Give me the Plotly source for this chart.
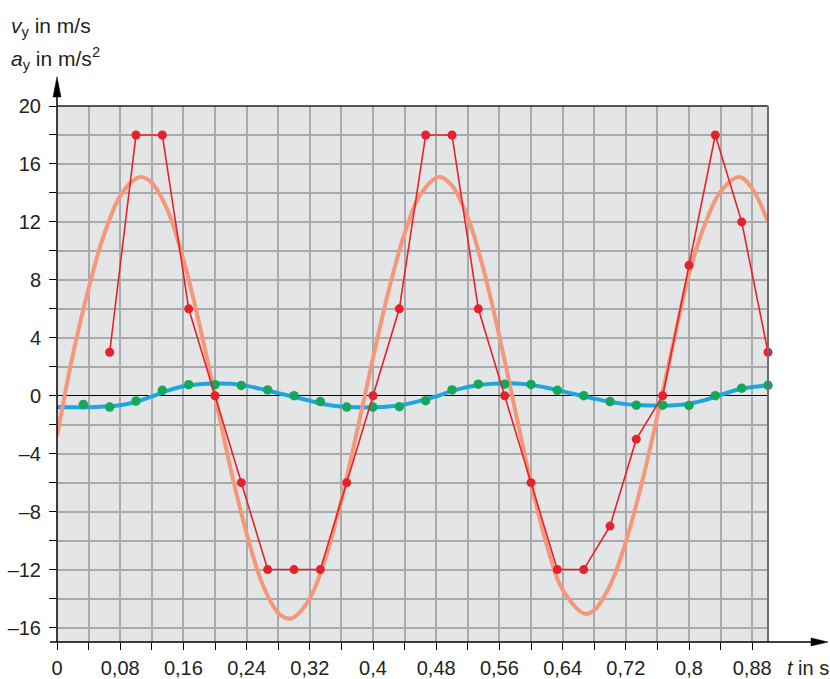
import plotly.graph_objects as go

# Measured samples, one every 1/30 s
t_v = [0.0333, 0.0667, 0.1, 0.1333, 0.1667, 0.2, 0.2333, 0.2667, 0.3, 0.3333,
       0.3667, 0.4, 0.4333, 0.4667, 0.5, 0.5333, 0.5667, 0.6, 0.6333, 0.6667,
       0.7, 0.7333, 0.7667, 0.8, 0.8333, 0.8667, 0.9]
v_meas = [-0.6, -0.78, -0.37, 0.37, 0.76, 0.76, 0.71, 0.4, 0.0, -0.4,
          -0.78, -0.78, -0.76, -0.34, 0.4, 0.8, 0.8, 0.78, 0.37, 0.0,
          -0.4, -0.65, -0.65, -0.67, 0.0, 0.52, 0.72]

t_a = [0.0667, 0.1, 0.1333, 0.1667, 0.2, 0.2333, 0.2667, 0.3, 0.3333, 0.3667,
       0.4, 0.4333, 0.4667, 0.5, 0.5333, 0.5667, 0.6, 0.6333, 0.6667, 0.7,
       0.7333, 0.7667, 0.8, 0.8333, 0.8667, 0.9]
a_meas = [3, 18, 18, 6, 0, -6, -12, -12, -12, -6,
          0, 6, 18, 18, 6, 0, -6, -12, -12, -9,
          -3, 0, 9, 18, 12, 3]

# Smooth model curves
t_vc = [0.0, 0.02, 0.04, 0.06, 0.08, 0.10, 0.12, 0.14, 0.16, 0.18, 0.20, 0.22,
        0.24, 0.26, 0.28, 0.30, 0.32, 0.34, 0.36, 0.38, 0.40, 0.42, 0.44, 0.46,
        0.48, 0.50, 0.52, 0.54, 0.56, 0.58, 0.60, 0.62, 0.64, 0.66, 0.68, 0.70,
        0.72, 0.74, 0.76, 0.78, 0.80, 0.82, 0.84, 0.86, 0.88, 0.90]
v_curve = [-0.78, -0.8, -0.8, -0.75, -0.65, -0.42, -0.05, 0.35, 0.65, 0.8, 0.85, 0.82,
           0.68, 0.45, 0.18, -0.08, -0.35, -0.6, -0.75, -0.8, -0.8, -0.75, -0.6, -0.35,
           -0.05, 0.33, 0.6, 0.78, 0.85, 0.84, 0.75, 0.55, 0.3, 0.05, -0.2, -0.42,
           -0.58, -0.65, -0.68, -0.66, -0.55, -0.3, 0.05, 0.4, 0.6, 0.72]

t_ac = [0.0, 0.02, 0.04, 0.06, 0.08, 0.10, 0.107, 0.12, 0.14, 0.16, 0.18, 0.20,
        0.22, 0.24, 0.26, 0.28, 0.294, 0.30, 0.32, 0.34, 0.36, 0.38, 0.40, 0.42,
        0.44, 0.46, 0.484, 0.50, 0.52, 0.54, 0.56, 0.58, 0.60, 0.62, 0.64, 0.668,
        0.68, 0.70, 0.72, 0.74, 0.76, 0.78, 0.80, 0.82, 0.84, 0.864, 0.88, 0.90]
a_curve = [-2.8, 2.8, 7.4, 11.2, 13.8, 15.0, 15.1, 14.7, 12.8, 9.4, 5.0, 0.0,
           -5.1, -9.5, -13.0, -15.0, -15.4, -15.3, -14.0, -11.2, -7.2, -2.4, 2.6, 7.3,
           11.2, 13.9, 15.1, 14.5, 12.3, 8.7, 4.1, -1.0, -6.0, -10.3, -13.4, -15.05,
           -14.8, -13.1, -10.1, -6.1, -1.4, 3.6, 8.4, 11.8, 14.1, 15.1, 14.3, 12.0]

# Axis ticks
x_major = [0, 0.08, 0.16, 0.24, 0.32, 0.4, 0.48, 0.56, 0.64, 0.72, 0.8, 0.88]
x_labels = ["0", "0,08", "0,16", "0,24", "0,32", "0,4", "0,48", "0,56", "0,64",
            "0,72", "0,8", "0,88"]
x_minor = [0.04, 0.12, 0.2, 0.28, 0.36, 0.44, 0.52, 0.6, 0.68, 0.76, 0.84]
y_major = [-16, -12, -8, -4, 0, 4, 8, 12, 16, 20]
y_labels = ["\u201316", "\u201312", "\u20138", "\u20134", "0", "4", "8", "12", "16", "20"]
y_minor = [-14, -10, -6, -2, 2, 6, 10, 14, 18]

FONT = "Liberation Sans, Arial, Helvetica, sans-serif"
GRID = "#a9aaac"

fig = go.Figure()
fig.add_trace(go.Scatter(x=t_vc, y=v_curve, mode="lines", line=dict(color="#1ea6e0", width=4, shape="spline"),
                         hoverinfo="skip"))
fig.add_trace(go.Scatter(x=t_ac, y=a_curve, mode="lines", line=dict(color="#f4977b", width=4, shape="spline"),
                         hoverinfo="skip"))
fig.add_trace(go.Scatter(x=t_v, y=v_meas, mode="markers", marker=dict(color="#16a85a", size=9.5),
                         cliponaxis=False))
fig.add_trace(go.Scatter(x=t_a, y=a_meas, mode="lines+markers", line=dict(color="#e5222b", width=1.6),
                         marker=dict(color="#e5222b", size=9), cliponaxis=False))

fig.update_layout(
    width=830, height=679,
    margin=dict(l=57, r=62, t=106, b=37),
    paper_bgcolor="white", plot_bgcolor="#e4e5e7",
    showlegend=False,
    font=dict(family=FONT, size=20, color="#231f20"),
    xaxis=dict(range=[0, 0.9], tickmode="array", tickvals=x_major, ticktext=x_labels,
               ticks="outside", ticklen=7, tickwidth=1.3, tickcolor="black",
               showgrid=True, gridcolor=GRID, gridwidth=1.6, zeroline=False, showline=False,
               ticklabelstandoff=1, automargin=False,
               minor=dict(tickmode="array", tickvals=x_minor, ticks="outside", ticklen=7,
                          tickwidth=1.3, tickcolor="black", showgrid=True, gridcolor=GRID,
                          gridwidth=1.6)),
    yaxis=dict(range=[-17, 20], tickmode="array", tickvals=y_major, ticktext=y_labels,
               ticks="outside", ticklen=7, tickwidth=1.3, tickcolor="black",
               showgrid=True, gridcolor=GRID, gridwidth=1.6,
               zeroline=True, zerolinecolor="black", zerolinewidth=1.3, showline=False,
               ticklabelstandoff=4, automargin=False,
               minor=dict(tickmode="array", tickvals=y_minor, ticks="outside", ticklen=7,
                          tickwidth=1.3, tickcolor="black", showgrid=True, gridcolor=GRID,
                          gridwidth=1.6)),
)

# Frame, axes and arrow heads
shapes = [
    dict(type="line", xref="paper", yref="paper", x0=0, x1=1, y0=1, y1=1,
         line=dict(color="#231f20", width=1.6)),
    dict(type="line", xref="paper", yref="paper", x0=1, x1=1, y0=0, y1=1,
         line=dict(color="#6d6e70", width=2)),
    dict(type="line", xref="paper", yref="paper", x0=0, x1=0, y0=0, y1=1.02,
         line=dict(color="black", width=1.5)),
    dict(type="line", xref="paper", yref="paper", x0=-0.0098, x1=1.062, y0=0, y1=0,
         line=dict(color="black", width=1.5)),
    dict(type="path", xref="paper", yref="paper",
         path="M 1.0844,0 L 1.0605,0.0075 L 1.0605,-0.0075 Z",
         fillcolor="black", line=dict(color="black", width=0.5)),
    dict(type="path", xref="paper", yref="paper",
         path="M 0,1.0547 L 0.0056,1.0168 L -0.0056,1.0168 Z",
         fillcolor="black", line=dict(color="black", width=0.5)),
]
fig.update_layout(shapes=shapes)

fig.add_annotation(text="<i>v</i><sub>y</sub> in m/s", xref="paper", yref="paper",
                   x=-0.068, y=1.147, xanchor="left", yanchor="middle", showarrow=False,
                   font=dict(size=21))
fig.add_annotation(text="<i>a</i><sub>y</sub> in m/s<sup>2</sup>", xref="paper", yref="paper",
                   x=-0.068, y=1.089, xanchor="left", yanchor="middle", showarrow=False,
                   font=dict(size=21))
fig.add_annotation(text="<i>t</i> in s", xref="paper", yref="paper",
                   x=1.024, y=-0.0485, xanchor="left", yanchor="middle", showarrow=False,
                   font=dict(size=20))

fig.write_html("out.html")
